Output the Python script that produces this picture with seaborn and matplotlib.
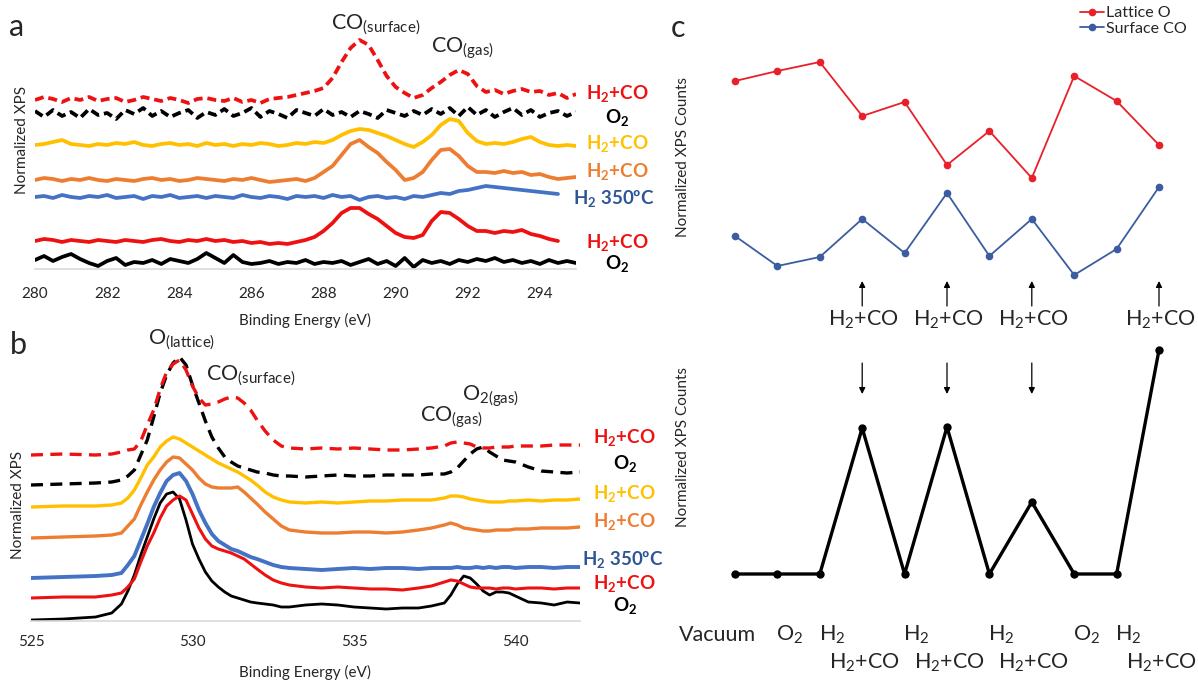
import numpy as np
import seaborn as sns
import matplotlib.pyplot as plt

# =========================
# Data
# =========================

# --- panel a: C 1s, energies every 0.25 eV from 280 to 295 ---
c1s_energy = np.linspace(280, 295, 61)

c1s_o2_1 = [3, 7, 2, 6, 9, 4, 0, -3, 2, 5,
            -2, 1, 0, 3, -1, 4, 2, 0, 4, 10,
            5, 0, 8, 1, -1, 0, 2, -1, 1, 0,
            3, -1, 1, 0, 2, -2, 1, 4, -1, 2,
            -3, 5, -4, 3, 0, 2, -1, 3, 1, 4,
            2, 5, 1, 3, 0, 2, -1, 3, 0, 2,
            0]
c1s_h2co_1 = [0, 2, 1, -1, 1, 0, -1, 1, 0, -1,
              1, 0, -1, 1, 2, 0, -1, 1, 0, 2,
              0, 1, -1, 0, -2, -1, -3, -2, -3, -1,
              1, 4, 10, 18, 28, 33, 33, 27, 22, 15,
              8, 4, 3, 6, 20, 29, 28, 22, 15, 10,
              10, 8, 10, 9, 11, 7, 5, 2, 0, np.nan,
              np.nan]
c1s_h2_350 = [0, 1, -1, 2, 0, -1, 1, 0, 2, -1,
              0, 1, -2, 1, 0, 2, -1, 0, 1, -1,
              1, 0, -1, 2, 0, -1, 1, 0, -2, 1,
              0, 1, -1, 2, 0, 1, -3, 0, 1, -1,
              0, -2, 1, 0, 2, 4, 3, 6, 7, 9,
              11, 10, 9, 8, 7, 6, 5, 4, 3, np.nan,
              np.nan]
c1s_h2co_2 = [0, 2, 1, -1, 1, 0, 2, 0, -1, 1,
              0, -1, 1, 2, 0, 1, -1, 0, 2, 1,
              0, -1, 1, 0, 2, 0, -2, -1, 0, 1,
              -1, 2, 8, 14, 25, 36, 40, 33, 27, 18,
              10, 0, 2, 8, 20, 30, 31, 24, 14, 8,
              8, 7, 9, 7, 8, 5, 6, 3, 1, 2,
              3]
c1s_h2co_3 = [0, 1, 3, 5, 1, 0, -1, 1, 0, 2,
              1, 3, 0, -1, 1, 2, 0, 1, -1, 2,
              0, 1, -1, 1, 0, 2, 1, -1, 0, 2,
              1, 3, 2, 5, 10, 14, 16, 15, 12, 9,
              5, 1, -2, 3, 10, 20, 26, 24, 12, 4,
              1, 2, 1, 3, 6, 8, 3, 0, -1, 0,
              -1]
c1s_o2_2 = [2, -4, 3, -3, 1, -5, 4, -2, 0, -6,
            3, -1, 5, -3, 2, -4, 0, 3, -5, 1,
            -2, 4, -3, 0, 5, -4, 2, -1, -5, 3,
            0, -3, 4, -2, 1, -4, 2, -1, -5, 3,
            0, -3, 2, -2, 4, -1, 5, -3, 6, -2,
            3, -4, 1, 5, -2, 3, -4, 0, 2, -3,
            1]
c1s_h2co_4 = [0, 3, 1, -2, 2, 0, 3, -1, 1, 2,
              -2, 0, 3, 1, -1, 2, 0, -3, 1, 2,
              0, -1, 2, -2, 0, -3, 1, 2, 3, 5,
              7, 9, 12, 22, 38, 52, 60, 55, 40, 24,
              13, 7, 2, 5, 12, 18, 25, 30, 26, 14,
              8, 10, 6, 9, 11, 8, 9, 5, 7, 2,
              6]

# --- panel b: O 1s ---
o1s_energy = [525, 526, 527, 527.5, 527.8, 528.0, 528.2, 528.4, 528.6, 528.8,
              529.0, 529.2, 529.4, 529.6, 529.8, 530.0, 530.2, 530.4, 530.6, 530.8,
              531.0, 531.2, 531.4, 531.6, 531.8, 532.0, 532.25, 532.5, 532.75, 533.0,
              533.5, 534.0, 534.5, 535.0, 535.5, 536.0, 536.5, 537.0, 537.4, 537.8,
              538.0, 538.2, 538.4, 538.6, 538.8, 539.0, 539.2, 539.4, 539.6, 539.8,
              540.0, 540.4, 540.8, 541.2, 541.6, 542.0]

o1s_o2_1 = [0, 1, 3, 7, 16, 29, 45, 65, 83, 101,
            117, 126, 128, 121, 100, 76, 61, 48, 39, 33,
            28, 24, 22, 20, 18, 17, 16, 15, 13, 13,
            15, 16, 15, 13, 12, 11, 12, 12, 14, 17,
            25, 36, 44, 42, 36, 29, 25, 28, 28, 27,
            24, 18, 17, 15, 18, 17]
o1s_h2co_1 = [0, 1, 1, 3, 5, 11, 19, 36, 52, 65,
              80, 92, 98, 102, 98, 84, 70, 59, 52, 49,
              47, 45, 42, 39, 34, 29, 23, 18, 15, 13,
              11, 10, 11, 10, 9, 9, 8, 10, 12, 16,
              18, 17, 14, 11, 10, 10, 10, 9, 10, 10,
              9, 10, 10, 9, 10, 10]
o1s_h2_350 = [0, 1, 2, 3, 5, 13, 22, 38, 54, 71,
              85, 97, 103, 105, 97, 84, 68, 55, 44, 37,
              33, 29, 27, 24, 21, 19, 16, 13, 11, 10,
              9, 8, 9, 10, 9, 10, 10, 9, 10, 10,
              10, 11, 10, 10, 11, 10, 11, 10, 11, 11,
              10, 11, 11, 10, 11, 11]
o1s_h2co_2 = [0, 1, 2, 3, 5, 12, 19, 33, 46, 58,
              68, 76, 81, 80, 74, 68, 60, 54, 51, 50,
              50, 50, 51, 46, 40, 34, 26, 19, 12, 8,
              6, 5, 5, 6, 6, 5, 6, 8, 10, 13,
              15, 13, 10, 9, 8, 7, 7, 8, 8, 8,
              9, 9, 10, 10, 10, 11]
o1s_h2co_3 = [0, 1, 1, 2, 4, 9, 17, 29, 42, 50,
              60, 66, 70, 68, 64, 60, 56, 52, 48, 44,
              41, 38, 35, 31, 27, 22, 15, 10, 7, 5,
              4, 5, 4, 5, 6, 6, 7, 7, 7, 9,
              11, 11, 10, 8, 7, 6, 5, 5, 5, 6,
              6, 7, 6, 7, 7, 8]
o1s_o2_2 = [0, 1, 2, 3, 5, 9, 15, 30, 45, 68,
            92, 110, 122, 128, 120, 100, 82, 64, 48, 37,
            28, 23, 19, 17, 15, 13, 12, 10, 9, 9,
            8, 9, 10, 9, 9, 10, 10, 10, 11, 11,
            13, 17, 24, 31, 36, 38, 33, 29, 25, 24,
            23, 18, 14, 13, 12, 13]
o1s_h2co_4 = [0, 1, 0, 1, 3, 5, 6, 14, 30, 45,
              66, 83, 91, 95, 85, 69, 57, 50, 51, 53,
              56, 58, 57, 52, 45, 35, 24, 15, 9, 7,
              6, 7, 6, 7, 6, 5, 5, 6, 7, 9,
              12, 13, 12, 11, 8, 7, 7, 8, 8, 8,
              9, 9, 9, 10, 10, 10]

# gas sequence, bottom to top of the stacks
treatments = ["O$_2$", "H$_2$+CO", "H$_2$ 350ºC", "H$_2$+CO",
              "H$_2$+CO", "O$_2$", "H$_2$+CO"]

# --- panel c ---
steps = ["Vacuum", "O$_2$", "H$_2$", "H$_2$+CO", "H$_2$", "H$_2$+CO",
         "H$_2$", "H$_2$+CO", "O$_2$", "H$_2$", "H$_2$+CO"]
lattice_o = [2.19, 2.29, 2.38, 1.84, 1.98, 1.35, 1.69, 1.22, 2.24, 1.99, 1.55]
surface_co = [0.64, 0.34, 0.43, 0.81, 0.47, 1.07, 0.44, 0.81, 0.25, 0.51, 1.13]
lower_counts = [0, 0, 0, 1.46, 0, 1.47, 0, 0.72, 0, 0, 2.24]

# =========================
# Styling
# =========================
sns.set_style("white")
plt.rcParams["font.family"] = ["Lato", "DejaVu Sans"]
plt.rcParams["mathtext.default"] = "regular"

W, H = 1198, 680
fig = plt.figure(figsize=(W / 100, H / 100), dpi=100)


def box(x0, y0, x1, y1):
    return [x0 / W, 1 - y1 / H, (x1 - x0) / W, (y1 - y0) / H]


def fx(x):
    return x / W


def fy(y):
    return 1 - y / H


RED, YEL, ORA, BLU = "#EE1111", "#FFC000", "#ED7D31", "#4472C4"
curve_colors = ["black", RED, BLU, ORA, YEL, "black", RED]
label_colors = ["black", RED, "#2F5597", ORA, YEL, "black", RED]
dashed = [False, False, False, False, False, True, True]


def spectra_axes(ax):
    for s in ["top", "left", "right"]:
        ax.spines[s].set_visible(False)
    ax.spines["bottom"].set_color("#D9D9D9")
    ax.spines["bottom"].set_linewidth(1.2)
    ax.set_yticks([])
    ax.set_ylabel("")
    ax.set_xlabel("")


# =========================
# a) C 1s
# =========================
ax_a = fig.add_axes(box(35, 30, 576, 269))
a_series = [c1s_o2_1, c1s_h2co_1, c1s_h2_350, c1s_h2co_2, c1s_h2co_3, c1s_o2_2, c1s_h2co_4]
a_offsets = [6, 28, 72, 89, 124, 156, 169]
for vals, off, col, dsh in zip(a_series, a_offsets, curve_colors, dashed):
    sns.lineplot(x=c1s_energy, y=np.array(vals, dtype=float) + off, ax=ax_a,
                 color=col, linewidth=2.7,
                 linestyle=(0, (2.4, 1.3)) if dsh else "-")
ax_a.set_xlim(280, 295)
ax_a.set_ylim(0, 239)
ax_a.set_xticks(range(280, 295, 2))
ax_a.tick_params(axis="x", length=0, pad=13, labelsize=11)
spectra_axes(ax_a)

a_label_pos = [(605, 264), (586, 242), (573, 198), (586, 172), (586, 143), (605, 118), (586, 94)]
for txt, col, (x, y) in zip(treatments, label_colors, a_label_pos):
    fig.text(fx(x), fy(y), txt, color=col, fontsize=13.5, fontweight="bold",
             ha="left", va="center")

fig.text(fx(305), fy(320), "Binding Energy (eV)", fontsize=11, ha="center", va="center")
fig.text(fx(22), fy(140), "Normalized XPS", fontsize=11, rotation=90, ha="center", va="center")
fig.text(fx(331), fy(25), "CO$_{(surface)}$", fontsize=15.5, ha="left", va="center")
fig.text(fx(431), fy(48), "CO$_{(gas)}$", fontsize=15.5, ha="left", va="center")
fig.text(fx(17), fy(27), "a", fontsize=22, ha="center", va="center")

# =========================
# b) O 1s
# =========================
ax_b = fig.add_axes(box(31, 340, 580, 621))
b_series = [o1s_o2_1, o1s_h2co_1, o1s_h2_350, o1s_h2co_2, o1s_h2co_3, o1s_o2_2, o1s_h2co_4]
b_offsets = [1, 23, 43, 83, 114, 136, 166]
b_widths = [2.0, 2.2, 2.8, 2.4, 2.4, 2.4, 2.4]
for vals, off, col, dsh, lw in zip(b_series, b_offsets, curve_colors, dashed, b_widths):
    sns.lineplot(x=o1s_energy, y=np.array(vals, dtype=float) + off, ax=ax_b,
                 color=col, linewidth=lw,
                 linestyle=(0, (3.6, 2.2)) if dsh else "-")
ax_b.set_xlim(525, 542)
ax_b.set_ylim(0, 281)
ax_b.set_xticks([525, 530, 535, 540])
ax_b.tick_params(axis="x", length=0, pad=10, labelsize=11)
spectra_axes(ax_b)

b_label_pos = [(613, 606), (593, 583), (582, 559), (593, 522), (593, 494), (613, 464), (593, 437)]
for txt, col, (x, y) in zip(treatments, label_colors, b_label_pos):
    fig.text(fx(x), fy(y), txt, color=col, fontsize=13.5, fontweight="bold",
             ha="left", va="center")

fig.text(fx(305), fy(672), "Binding Energy (eV)", fontsize=11, ha="center", va="center")
fig.text(fx(18), fy(505), "Normalized XPS", fontsize=11, rotation=90, ha="center", va="center")
fig.text(fx(148), fy(340), "O$_{(lattice)}$", fontsize=15.5, ha="left", va="center")
fig.text(fx(206), fy(376), "CO$_{(surface)}$", fontsize=15.5, ha="left", va="center")
fig.text(fx(420), fy(417), "CO$_{(gas)}$", fontsize=15.5, ha="left", va="center")
fig.text(fx(462), fy(396), "O$_{2(gas)}$", fontsize=15.5, ha="left", va="center")
fig.text(fx(18), fy(345), "b", fontsize=22, ha="center", va="center")

# =========================
# c) peak areas per step
# =========================
x_steps = np.arange(len(steps))
is_reaction = [s == "H$_2$+CO" for s in steps]

ax_c1 = fig.add_axes(box(713.8, 0, 1180.2, 340))
sns.lineplot(x=x_steps, y=lattice_o, ax=ax_c1, color="#E8202A", linewidth=1.3,
             marker="o", markersize=5.5, markeredgewidth=0, label="Lattice O")
sns.lineplot(x=x_steps, y=surface_co, ax=ax_c1, color="#3B5DA0", linewidth=1.3,
             marker="o", markersize=5.5, markeredgewidth=0, label="Surface CO")
ax_c1.set_xlim(-0.5, 10.5)
ax_c1.set_ylim(-0.4, 3.0)
ax_c1.axis("off")
ax_c1.legend(loc="upper left", bbox_to_anchor=(fx(1080), fy(6)),
             bbox_transform=fig.transFigure, frameon=False, fontsize=11.5,
             handlelength=1.5, handletextpad=0.15, labelspacing=0.1,
             borderpad=0, borderaxespad=0)
for xi, r in zip(x_steps, is_reaction):
    if r:
        ax_c1.annotate("", xy=(xi, 0.19), xytext=(xi, -0.06),
                       arrowprops=dict(arrowstyle="-|>", color="black", lw=0.9,
                                       mutation_scale=9, shrinkA=0, shrinkB=0))
        ax_c1.text(xi + 0.04, -0.20, steps[xi], fontsize=15.5, ha="center", va="center")

ax_c2 = fig.add_axes(box(713.8, 340, 1180.2, 600))
sns.lineplot(x=x_steps, y=lower_counts, ax=ax_c2, color="black", linewidth=2.4,
             marker="o", markersize=6, markeredgewidth=0)
ax_c2.set_xlim(-0.5, 10.5)
ax_c2.set_ylim(-0.26, 2.34)
ax_c2.axis("off")
for xi, r in zip(x_steps, is_reaction):
    if r and lower_counts[xi] < 2:
        ax_c2.annotate("", xy=(xi, 1.80), xytext=(xi, 2.11),
                       arrowprops=dict(arrowstyle="-|>", color="black", lw=0.9,
                                       mutation_scale=9, shrinkA=0, shrinkB=0))

for xi, r in zip(x_steps, is_reaction):
    if r:
        ax_c2.text(xi + 0.05, -0.89, steps[xi], fontsize=15.5, ha="center",
                   va="center", clip_on=False)
    elif xi == 0:
        ax_c2.text(xi - 1.32, -0.61, steps[xi], fontsize=15.5, ha="left",
                   va="center", clip_on=False)
    else:
        ax_c2.text(xi - 0.03, -0.61, steps[xi], fontsize=15.5, ha="left",
                   va="center", clip_on=False)

fig.text(fx(683), fy(157), "Normalized XPS Counts", fontsize=11, rotation=90,
         ha="center", va="center")
fig.text(fx(683), fy(447), "Normalized XPS Counts", fontsize=11, rotation=90,
         ha="center", va="center")
fig.text(fx(678), fy(28), "c", fontsize=22, ha="center", va="center")

fig.savefig("out.png", dpi=100)
